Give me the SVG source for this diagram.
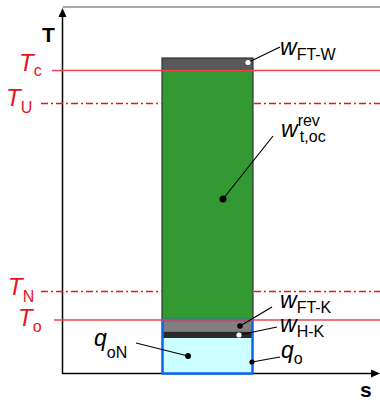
<svg xmlns="http://www.w3.org/2000/svg" width="380" height="402" viewBox="0 0 380 402">
<style>
  .lbl { font-family: "Liberation Sans", Arial, sans-serif; fill: #000; font-style: italic; font-size: 23px; }
  .tl { font-size: 24px; }
  .sub { font-style: normal; font-size: 16px; }
  .red { fill: #e8141c; }
  .ax { font-family: "Liberation Sans", Arial, sans-serif; font-weight: bold; fill: #000; }
  .lead { stroke: #000; stroke-width: 1.2; fill: none; }
  .rl { stroke: #e8474c; stroke-width: 1.6; fill: none; }
  .dd { stroke: #e8141c; stroke-width: 1.4; fill: none; stroke-dasharray: 7 3 2 3; }
</style>
<rect width="380" height="402" fill="#fff"/>
<g id="axes">
  <line x1="62.5" y1="7" x2="380" y2="7" stroke="#555" stroke-width="1"/>
  <line x1="62.5" y1="374" x2="62.5" y2="14" stroke="#000" stroke-width="1.5"/>
  <polygon points="62.5,8 58.5,17 66.5,17" fill="#000"/>
  <line x1="62" y1="373.5" x2="372" y2="373.5" stroke="#000" stroke-width="1.5"/>
  <polygon points="380,373.5 371,369.5 371,377.5" fill="#000"/>
  <text class="ax" x="42" y="42" font-size="21">T</text>
  <text class="ax" x="360" y="397" font-size="21">s</text>
</g>
<g id="bar">
  <rect x="162" y="58" width="91" height="12.5" fill="#595959" stroke="#333" stroke-width="1.2"/>
  <rect x="162" y="70.5" width="91" height="249.5" fill="#339933" stroke="#333" stroke-width="1.2"/>
</g>
<g id="box">
  <rect x="162" y="320" width="91" height="53.5" fill="#ccffff"/>
  <rect x="162" y="320" width="91" height="11.5" fill="#808080"/>
  <rect x="162" y="331.5" width="91" height="6.5" fill="#2b2b2b"/>
  <rect x="162.5" y="320" width="90" height="53.5" fill="none" stroke="#0a64f0" stroke-width="2.5"/>
</g>
<g id="temps">
  <line class="rl" x1="52" y1="70.5" x2="380" y2="70.5"/>
  <line class="rl" x1="54" y1="320" x2="380" y2="320"/>
  <line class="dd" x1="41" y1="103.5" x2="162" y2="103.5"/>
  <line class="dd" x1="254" y1="103.5" x2="380" y2="103.5"/>
  <line class="dd" x1="41" y1="291.5" x2="162" y2="291.5"/>
  <line class="dd" x1="254" y1="291.5" x2="380" y2="291.5"/>
  <text class="lbl tl red" x="19" y="71">T<tspan class="sub" dy="4.5">c</tspan></text>
  <text class="lbl tl red" x="6" y="106">T<tspan class="sub" dy="7">U</tspan></text>
  <text class="lbl tl red" x="8" y="295">T<tspan class="sub" dy="6.5">N</tspan></text>
  <text class="lbl tl red" x="18" y="326">T<tspan class="sub" dy="5.5">o</tspan></text>
</g>
<g id="connectors">
  <line class="lead" x1="248" y1="62.5" x2="280" y2="47"/>
  <line class="lead" x1="223" y1="199" x2="273" y2="136"/>
  <line class="lead" x1="240" y1="326" x2="272" y2="307"/>
  <line class="lead" x1="239" y1="335" x2="277" y2="327"/>
  <line class="lead" x1="252" y1="362" x2="280" y2="357"/>
  <line class="lead" x1="136" y1="343" x2="188" y2="356"/>
  <circle cx="248" cy="62.5" r="2.6" fill="#fff"/>
  <circle cx="223" cy="199" r="3.5" fill="#000"/>
  <circle cx="240" cy="326" r="2.8" fill="#000"/>
  <circle cx="239" cy="335" r="2.6" fill="#fff"/>
  <circle cx="252" cy="362" r="2.6" fill="#000"/>
  <circle cx="188" cy="356" r="3" fill="#000"/>
</g>
<g id="labels">
  <text id="wFTW" class="lbl" x="280" y="55">w<tspan class="sub" dy="5">FT-W</tspan></text>
  <text id="wtoc" class="lbl" x="281" y="136.5">w<tspan class="sub" font-size="14.5" dy="-11">rev</tspan><tspan class="sub" font-size="14.5" dx="-20" dy="16">t,oc</tspan></text>
  <text id="wFTK" class="lbl" x="280" y="308">w<tspan class="sub" dy="5">FT-K</tspan></text>
  <text id="wHK" class="lbl" x="280" y="332">w<tspan class="sub" dy="5">H-K</tspan></text>
  <text id="qo" class="lbl" x="281" y="358">q<tspan class="sub" dy="6">o</tspan></text>
  <text id="qoN" class="lbl" x="94" y="346">q<tspan class="sub" dy="12">oN</tspan></text>
</g>
</svg>
